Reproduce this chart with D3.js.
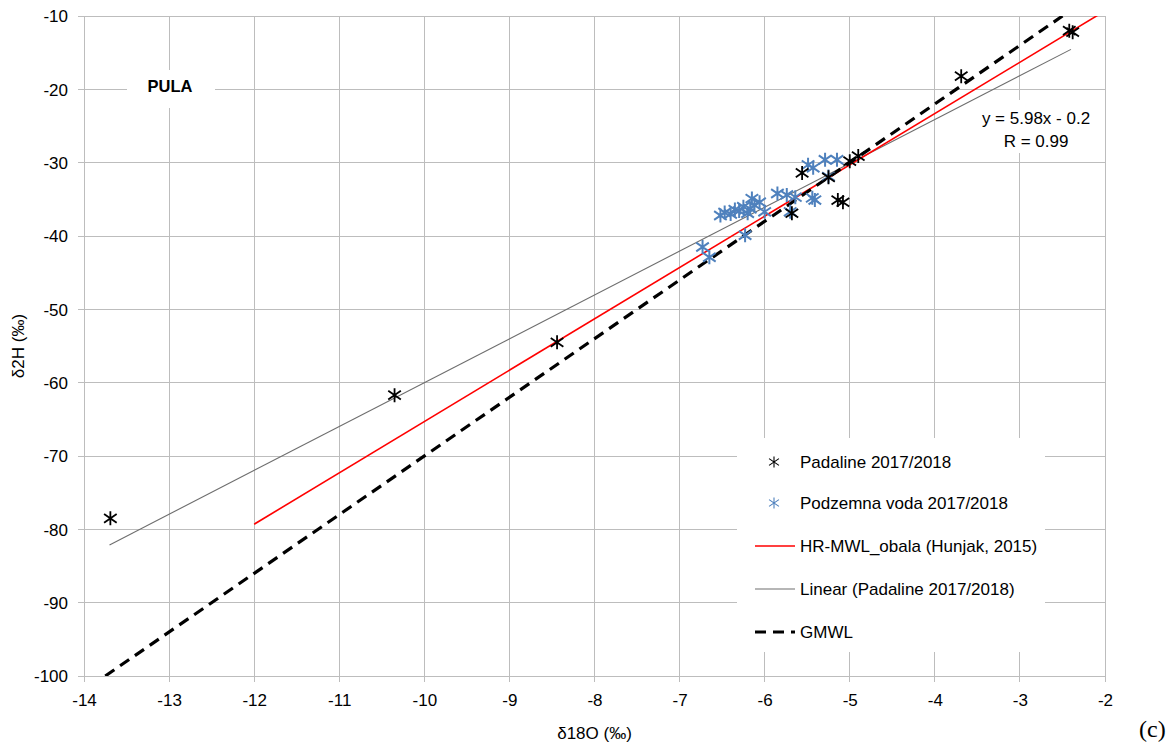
<!DOCTYPE html>
<html><head><meta charset="utf-8">
<script src="https://cdn.jsdelivr.net/npm/d3@7"></script>
<style>
body{margin:0;background:#fff;}
text{font-family:"Liberation Sans",Arial,sans-serif;}
</style></head>
<body><svg id="c" width="1176" height="744"></svg>
<script>
// ---- data ----
const xTicks = [-14,-13,-12,-11,-10,-9,-8,-7,-6,-5,-4,-3,-2];
const yTicks = [-10,-20,-30,-40,-50,-60,-70,-80,-90,-100];
const padalineX = [-13.69,-10.35,-8.44,-3.69,-2.42,-2.38,-5.56,-5.14,-5.08,-5.68,-5.00,-4.90,-5.25];
const padalineY = [-78.5,-61.7,-54.5,-18.2,-12.0,-12.2,-31.4,-35.1,-35.4,-36.9,-29.8,-29.1,-32.0];
const podzemnaX = [-6.73,-6.65,-6.23,-6.52,-6.47,-6.40,-6.35,-6.30,-6.25,-6.20,-6.17,-6.12,-6.15,-6.06,-6.00,-5.85,-5.74,-5.70,-5.64,-5.49,-5.43,-5.44,-5.41,-5.29,-5.25,-5.15];
const podzemnaY = [-41.5,-42.9,-39.9,-37.2,-36.8,-37.0,-36.4,-36.6,-36.0,-36.9,-36.3,-35.8,-34.9,-35.4,-36.7,-34.2,-34.4,-36.7,-34.7,-30.3,-30.7,-34.8,-35.1,-29.6,-31.9,-29.6];
const hrMwlX = [-12, -2.0];          // HR-MWL_obala (Hunjak, 2015): slope/intercept
const hrMwlCoef = [7.0, 4.7];
const trendX = [-13.7, -2.4];        // Linear (Padaline 2017/2018)
const trendCoef = [5.98, -0.2];
const gmwlX = [-13.75, -2.5];        // GMWL
const gmwlCoef = [8, 10];
const legendLabels = ["Padaline 2017/2018","Podzemna voda 2017/2018","HR-MWL_obala (Hunjak, 2015)","Linear (Padaline 2017/2018)","GMWL"];

// ---- chart ----
const svg = d3.select("#c");
const L=84,R=1105,T=16,B=676;
const FS=17;
const x = d3.scaleLinear().domain([-14,-2]).range([L,R]);
const y = d3.scaleLinear().domain([-100,-10]).range([B,T]);
const grid="#bdbdbd";

svg.append("defs").append("clipPath").attr("id","clip")
  .append("rect").attr("x",L).attr("y",T).attr("width",R-L).attr("height",B-T);

// gridlines
svg.append("g").selectAll("line").data(xTicks).join("line")
  .attr("x1",d=>x(d)).attr("x2",d=>x(d)).attr("y1",T).attr("y2",B+6)
  .attr("stroke",grid).attr("stroke-width",1).attr("shape-rendering","crispEdges");
svg.append("g").selectAll("line").data(yTicks).join("line")
  .attr("x1",L-6).attr("x2",R).attr("y1",d=>y(d)).attr("y2",d=>y(d))
  .attr("stroke",grid).attr("stroke-width",1).attr("shape-rendering","crispEdges");

// axes labels via d3 axes (no domain/tick lines)
const xAxis = svg.append("g").attr("transform",`translate(0,${B})`)
  .call(d3.axisBottom(x).tickValues(xTicks).tickSize(0).tickPadding(24).tickFormat(d=>String(d)));
const yAxis = svg.append("g").attr("transform",`translate(${L},0)`)
  .call(d3.axisLeft(y).tickValues(yTicks).tickSize(0).tickPadding(16).tickFormat(d=>String(d)));
[xAxis,yAxis].forEach(a=>{a.select(".domain").remove();
  a.selectAll("text").attr("font-size",FS).attr("fill","#000").attr("font-family","Liberation Sans, Arial, sans-serif");});
yAxis.selectAll("text").attr("dy","0.35em");
xAxis.selectAll("text").attr("dy","0.35em");

// white label boxes
svg.append("rect").attr("x",127).attr("y",70).attr("width",88).attr("height",38).attr("fill","#fff");
svg.append("rect").attr("x",966).attr("y",100).attr("width",R-966-1).attr("height",53).attr("fill","#fff");

// lines
const plot = svg.append("g").attr("clip-path","url(#clip)");
const lineGen = d3.line().x(d=>x(d[0])).y(d=>y(d[1]));
const pts = (xs,c)=>xs.map(v=>[v,c[0]*v+c[1]]);
plot.append("path").attr("d",lineGen(pts(trendX,trendCoef))).attr("fill","none").attr("stroke","#6e6e6e").attr("stroke-width",1.1);
plot.append("path").attr("d",lineGen(pts(hrMwlX,hrMwlCoef))).attr("fill","none").attr("stroke","#ff0000").attr("stroke-width",1.6);
plot.append("path").attr("d",lineGen(pts(gmwlX,gmwlCoef))).attr("fill","none").attr("stroke","#000").attr("stroke-width",3.2).attr("stroke-dasharray","11,7");

// asterisk marker
function star(r){const a=r*0.9,b=r*0.62;return `M0,${-r}L0,${r}M${-a},${-b}L${a},${b}M${-a},${b}L${a},${-b}`;}
const blue="#4f81bd";
plot.append("g").selectAll("path").data(d3.range(podzemnaX.length)).join("path")
  .attr("transform",i=>`translate(${x(podzemnaX[i])},${y(podzemnaY[i])})`)
  .attr("d",star(7)).attr("stroke",blue).attr("stroke-width",2).attr("fill","none");
plot.append("g").selectAll("path").data(d3.range(padalineX.length)).join("path")
  .attr("transform",i=>`translate(${x(padalineX[i])},${y(padalineY[i])})`)
  .attr("d",star(7)).attr("stroke","#000").attr("stroke-width",1.8).attr("fill","none");

// frame (right)
svg.append("line").attr("x1",R).attr("x2",R).attr("y1",T).attr("y2",B).attr("stroke",grid).attr("shape-rendering","crispEdges");

// texts
svg.append("text").attr("x",170).attr("y",92).attr("text-anchor","middle").attr("font-size",FS-0.5).attr("font-weight","bold").text("PULA");
svg.append("text").attr("x",1036).attr("y",124).attr("text-anchor","middle").attr("font-size",FS).text("y = 5.98x - 0.2");
svg.append("text").attr("x",1036).attr("y",147).attr("text-anchor","middle").attr("font-size",FS).text("R = 0.99");
svg.append("text").attr("x",(L+R)/2).attr("y",739).attr("text-anchor","middle").attr("font-size",FS).text("δ18O (‰)");
svg.append("text").attr("transform",`translate(24,${(T+B)/2}) rotate(-90)`).attr("text-anchor","middle").attr("font-size",FS).text("δ2H (‰)");
svg.append("text").attr("x",1139).attr("y",737).attr("font-size",24).style("font-family","'Liberation Serif', serif").text("(c)");

// legend
const lg = svg.append("g");
lg.append("rect").attr("x",737).attr("y",438).attr("width",308).attr("height",214).attr("fill","#fff");
const ly = [462,503,546,589,632];
lg.selectAll("text").data(legendLabels).join("text").attr("x",800).attr("y",(d,i)=>ly[i]+6)
  .attr("font-size",FS).text(d=>d);
lg.append("path").attr("transform",`translate(774,${ly[0]})`).attr("d",star(5.5)).attr("stroke","#000").attr("stroke-width",1.1).attr("fill","none");
lg.append("path").attr("transform",`translate(774,${ly[1]})`).attr("d",star(5.5)).attr("stroke",blue).attr("stroke-width",1.1).attr("fill","none");
lg.append("line").attr("x1",755).attr("x2",795).attr("y1",ly[2]).attr("y2",ly[2]).attr("stroke","#ff0000").attr("stroke-width",1.6);
lg.append("line").attr("x1",755).attr("x2",795).attr("y1",ly[3]).attr("y2",ly[3]).attr("stroke","#6e6e6e").attr("stroke-width",1.1);
lg.append("line").attr("x1",755).attr("x2",795).attr("y1",ly[4]).attr("y2",ly[4]).attr("stroke","#000").attr("stroke-width",3.2).attr("stroke-dasharray","11,7");
</script></body></html>
